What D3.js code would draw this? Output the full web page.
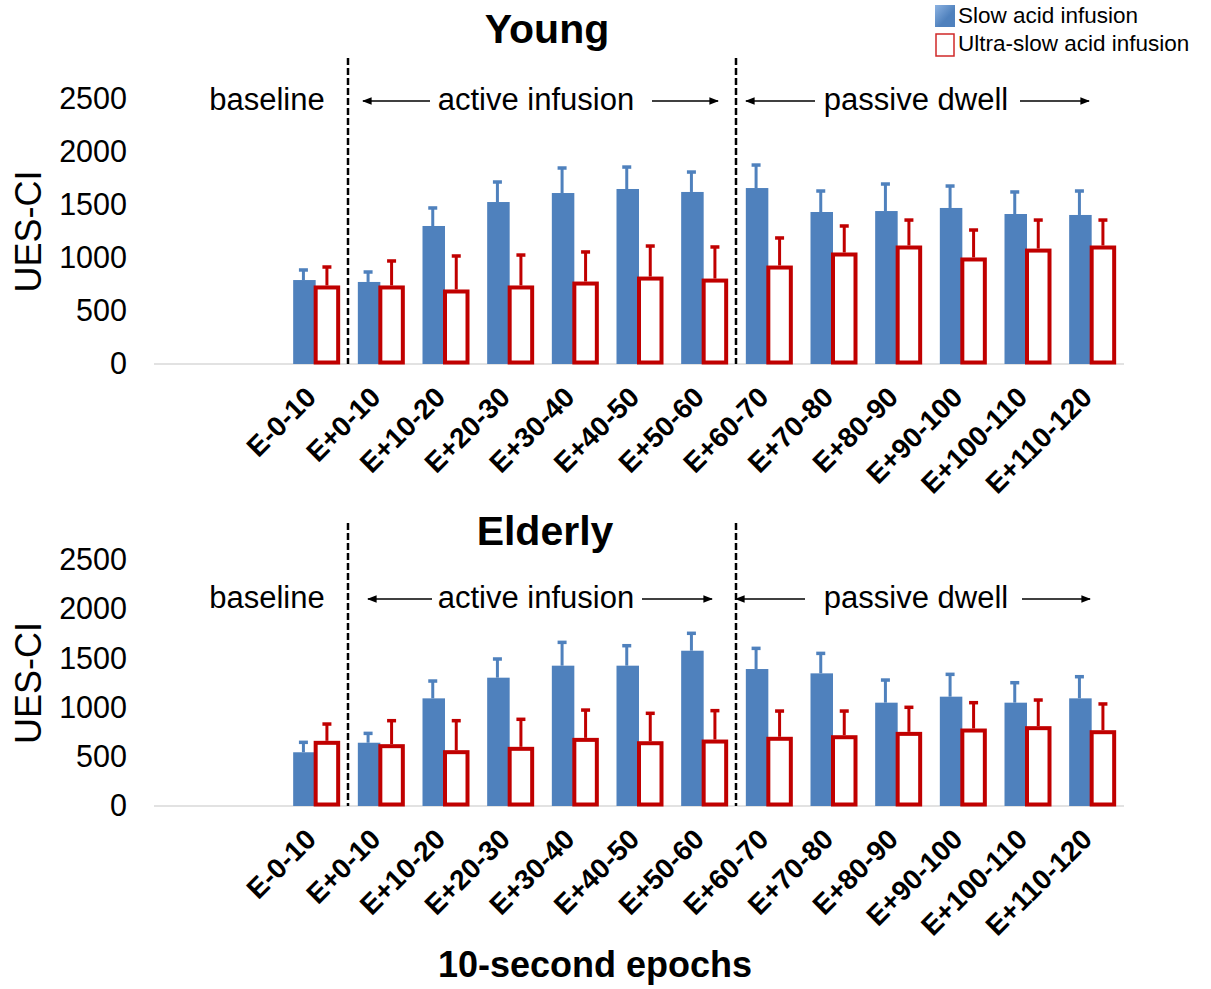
<!DOCTYPE html>
<html lang="en">
<head>
    <meta charset="UTF-8">
    <title>UES-CI epochs</title>
    <script src="https://cdn.jsdelivr.net/npm/d3@7"></script>
    <style>
        body { margin: 0; background: #fff; }
        text { font-family: Arial, "Liberation Sans", sans-serif; fill: #000; }
    </style>
</head>
<body>
</body>
<script>
    // categories (10-second epochs)
    const epochs = ["E-0-10", "E+0-10", "E+10-20", "E+20-30", "E+30-40", "E+40-50", "E+50-60",
        "E+60-70", "E+70-80", "E+80-90", "E+90-100", "E+100-110", "E+110-120"];
    const yTicks = [0, 500, 1000, 1500, 2000, 2500];

    // Young: means and upper error (SD)
    const youngSlow = [792, 774, 1302, 1528, 1613, 1651, 1623, 1660, 1434, 1443, 1472, 1415, 1406];
    const youngSlowErr = [95, 94, 170, 189, 236, 207, 188, 217, 198, 255, 207, 208, 226];
    const youngUltra = [722, 722, 684, 722, 759, 806, 787, 910, 1033, 1099, 986, 1070, 1099];
    const youngUltraErr = [193, 250, 335, 306, 298, 307, 317, 279, 269, 259, 278, 288, 259];

    // Elderly
    const elderSlow = [546, 643, 1094, 1304, 1426, 1426, 1578, 1392, 1348, 1050, 1111, 1050, 1094];
    const elderSlowErr = [101, 95, 176, 190, 237, 203, 177, 210, 203, 230, 227, 203, 220];
    const elderUltra = [642, 608, 547, 581, 672, 638, 655, 683, 699, 733, 767, 791, 750];
    const elderUltraErr = [191, 259, 320, 300, 303, 304, 314, 282, 266, 270, 283, 286, 287];

    const blue = "#4f81bd";
    const red = "#c00000";

    const width = 1211, height = 989;
    const svg = d3.select("body").append("svg")
        .attr("width", width)
        .attr("height", height);

    const defs = svg.append("defs");
    const grad = defs.append("linearGradient").attr("id", "legBlue")
        .attr("x1", 0).attr("y1", 0).attr("x2", 1).attr("y2", 1);
    grad.append("stop").attr("offset", "0%").attr("stop-color", "#8db3e2");
    grad.append("stop").attr("offset", "60%").attr("stop-color", blue);

    defs.append("marker").attr("id", "arrow")
        .attr("viewBox", "0 0 10 10").attr("refX", 9).attr("refY", 5)
        .attr("markerWidth", 6).attr("markerHeight", 6)
        .attr("markerUnits", "strokeWidth")
        .attr("orient", "auto-start-reverse")
        .append("path").attr("d", "M0,1L10,5L0,9z").attr("fill", "#000");

    // x: two empty slots before the first epoch, like the original
    const axisLeftX = 154, axisRightX = 1124;
    const step = (axisRightX - axisLeftX) / (epochs.length + 2);
    const x = d3.scaleBand()
        .domain(epochs)
        .range([axisLeftX + 2 * step, axisRightX]);
    const barW = 22.5;

    function panel(opts) {
        const y = d3.scaleLinear().domain([0, 2500]).range([opts.y0, opts.y1]);
        const g = svg.append("g");

        // y axis labels
        g.append("g")
            .attr("transform", `translate(127,0)`)
            .call(d3.axisLeft(y).tickValues(yTicks).tickFormat(d3.format("d")).tickSize(0).tickPadding(0))
            .call(a => a.select(".domain").remove())
            .selectAll("text")
            .attr("font-size", 30.5)
            .attr("font-family", "Arial, 'Liberation Sans', sans-serif")
            .attr("fill", "#000");

        g.append("text")
            .attr("transform", `translate(41,${(opts.y0 + opts.y1) / 2}) rotate(-90)`)
            .attr("text-anchor", "middle")
            .attr("font-size", 36)
            .text("UES-CI");

        // x baseline
        g.append("line")
            .attr("x1", axisLeftX).attr("x2", axisRightX)
            .attr("y1", y(0)).attr("y2", y(0))
            .attr("stroke", "#d9d9d9").attr("stroke-width", 1.5);

        // blue bars
        g.append("g").selectAll("rect")
            .data(opts.slow)
            .join("rect")
            .attr("x", (d, i) => x(epochs[i]) + x.bandwidth() / 2 - barW)
            .attr("y", d => y(d))
            .attr("width", barW)
            .attr("height", d => y(0) - y(d))
            .attr("fill", blue);

        // blue error bars
        const be = g.append("g").attr("stroke", blue).attr("stroke-width", 3);
        opts.slow.forEach((d, i) => {
            const cx = x(epochs[i]) + x.bandwidth() / 2 - barW / 2 - 1;
            const top = y(d + opts.slowErr[i]);
            be.append("line").attr("x1", cx).attr("x2", cx).attr("y1", y(d)).attr("y2", top);
            be.append("line").attr("x1", cx - 4.5).attr("x2", cx + 4.5).attr("y1", top).attr("y2", top)
                .attr("stroke-width", 3.5);
        });

        // red outlined bars
        g.append("g").selectAll("rect")
            .data(opts.ultra)
            .join("rect")
            .attr("x", (d, i) => x(epochs[i]) + x.bandwidth() / 2)
            .attr("y", d => y(d))
            .attr("width", barW)
            .attr("height", d => y(0) - y(d) - 1.5)
            .attr("fill", "#fff")
            .attr("stroke", red)
            .attr("stroke-width", 4);

        const re = g.append("g").attr("stroke", red).attr("stroke-width", 3);
        opts.ultra.forEach((d, i) => {
            const cx = x(epochs[i]) + x.bandwidth() / 2 + barW / 2;
            const top = y(d + opts.ultraErr[i]);
            re.append("line").attr("x1", cx).attr("x2", cx).attr("y1", y(d) - 2).attr("y2", top);
            re.append("line").attr("x1", cx - 4.5).attr("x2", cx + 4.5).attr("y1", top).attr("y2", top)
                .attr("stroke-width", 3.5);
        });

        // category labels
        g.append("g").selectAll("text")
            .data(epochs)
            .join("text")
            .attr("transform", d => `translate(${x(d) + x.bandwidth() / 2 + 2},${y(0) + 35}) rotate(-45)`)
            .attr("text-anchor", "end")
            .attr("font-weight", "bold")
            .attr("font-size", 28)
            .text(d => d);

        // phase dividers
        [epochs[1], epochs[7]].forEach(c => {
            g.append("line")
                .attr("x1", x(c)).attr("x2", x(c))
                .attr("y1", opts.dashTop).attr("y2", y(0))
                .attr("stroke", "#000").attr("stroke-width", 2.5)
                .attr("stroke-dasharray", "7,3");
        });

        // title
        g.append("text")
            .attr("x", opts.titleX).attr("y", opts.titleY)
            .attr("text-anchor", "middle")
            .attr("font-weight", "bold")
            .attr("font-size", 41)
            .text(opts.title);

        // phase annotations
        const ty = opts.noteY;
        const note = (txt, cx) => g.append("text")
            .attr("x", cx).attr("y", ty + 11)
            .attr("text-anchor", "middle")
            .attr("font-size", 31)
            .text(txt);
        const arrow = (xa, xb) => g.append("line")
            .attr("x1", xa).attr("x2", xb)
            .attr("y1", ty + 2).attr("y2", ty + 2)
            .attr("stroke", "#000").attr("stroke-width", 1.6)
            .attr("marker-end", "url(#arrow)");
        note("baseline", 267);
        note("active infusion", 536);
        note("passive dwell", 916);
        opts.arrows.forEach(a => arrow(a[0], a[1]));
    }

    panel({
        title: "Young", titleX: 547, titleY: 43,
        y0: 364, y1: 99, dashTop: 58, noteY: 99,
        slow: youngSlow, slowErr: youngSlowErr,
        ultra: youngUltra, ultraErr: youngUltraErr,
        arrows: [[430, 363], [652, 718], [815, 746], [1020, 1089]]
    });

    panel({
        title: "Elderly", titleX: 545, titleY: 545,
        y0: 806, y1: 560, dashTop: 523, noteY: 597,
        slow: elderSlow, slowErr: elderSlowErr,
        ultra: elderUltra, ultraErr: elderUltraErr,
        arrows: [[432, 368], [642, 712], [805, 736], [1022, 1090]]
    });

    // legend
    const leg = svg.append("g");
    leg.append("rect").attr("x", 935).attr("y", 5).attr("width", 20).attr("height", 22)
        .attr("fill", "url(#legBlue)");
    leg.append("rect").attr("x", 936).attr("y", 34).attr("width", 18).attr("height", 22)
        .attr("fill", "#fff").attr("stroke", "#d02828").attr("stroke-width", 1.5);
    leg.append("text").attr("x", 958).attr("y", 23).attr("font-size", 22.5).attr("fill", "#222")
        .text("Slow acid infusion");
    leg.append("text").attr("x", 958).attr("y", 51).attr("font-size", 22.5).attr("fill", "#222")
        .text("Ultra-slow acid infusion");

    // x axis title
    svg.append("text")
        .attr("x", 595).attr("y", 977)
        .attr("text-anchor", "middle")
        .attr("font-weight", "bold")
        .attr("font-size", 36)
        .text("10-second epochs");
</script>
</html>
